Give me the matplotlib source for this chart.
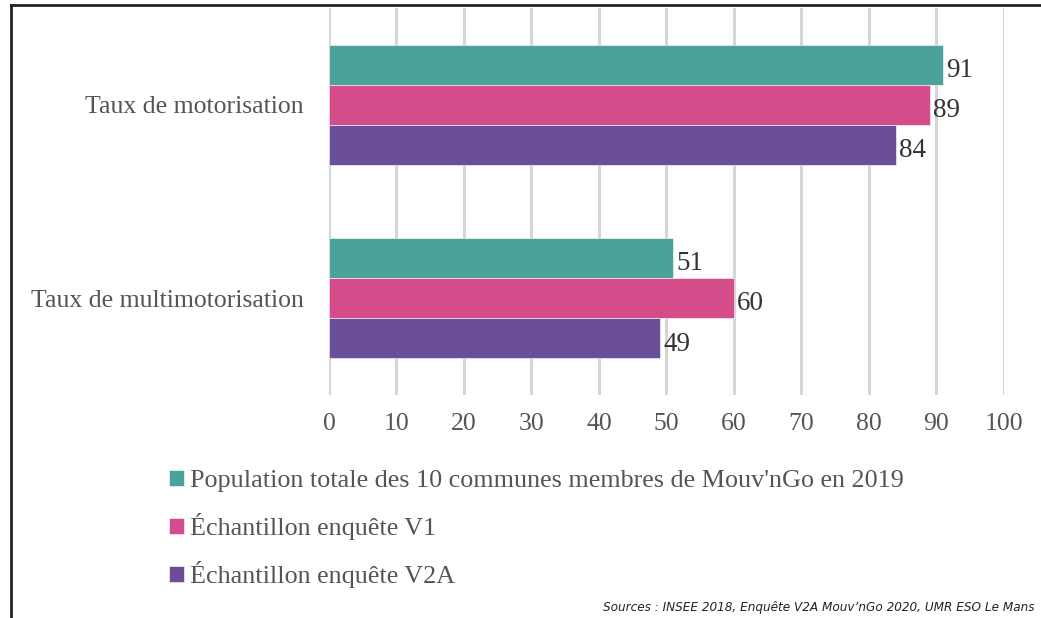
import numpy as np
import matplotlib.pyplot as plt
from matplotlib.lines import Line2D
from matplotlib.patches import Patch

categories = ["Taux de motorisation", "Taux de multimotorisation"]
series = ["Population totale des 10 communes membres de Mouv'nGo en 2019",
          "Échantillon enquête V1",
          "Échantillon enquête V2A"]
population = [91, 51]
v1 = [89, 60]
v2a = [84, 49]
colors = ["#4BA29A", "#D44D8A", "#6A4E97"]
xticks = list(range(0, 101, 10))
source = "Sources : INSEE 2018, Enquête V2A Mouv’nGo 2020, UMR ESO Le Mans"

txt = "#555555"
plt.rcParams['font.family'] = ['Liberation Serif', 'DejaVu Serif']

fig = plt.figure(figsize=(10.41, 6.18), dpi=100)
ax = fig.add_axes([0.316, 0.361, 0.6484, 0.626])

y = np.arange(len(categories))
h = 0.207
for i, (vals, col) in enumerate(zip([population, v1, v2a], colors)):
    pos = y + (i - 1) * h
    ax.barh(pos, vals, height=h, color=col, edgecolor="white", linewidth=0.4,
            label=series[i], zorder=3)
    for p, v in zip(pos, vals):
        ax.text(v + 0.5, p + 0.03, str(v), va="center", ha="left",
                fontsize=19.5, color="#333333")

ax.set_xlim(0, 100)
ax.set_ylim(1.5, -0.5)
ax.set_xticks(xticks)
ax.set_yticks(y)
ax.set_yticklabels(categories)
ax.grid(axis="x", color="#D6D6D6", linewidth=2.2, zorder=0)
ax.tick_params(axis="both", length=0, labelsize=18.5, labelcolor=txt)
ax.tick_params(axis="x", pad=13)
ax.tick_params(axis="y", pad=18)
for s in ax.spines.values():
    s.set_visible(False)

handles = [Patch(facecolor=c, edgecolor="white", linewidth=0.4) for c in colors]
fig.legend(handles, series, loc="upper left", bbox_to_anchor=(0.150, 0.26),
           frameon=False, fontsize=18.8, handlelength=0.55, handleheight=0.55,
           handletextpad=0.25, labelspacing=0.8, borderpad=0,
           labelcolor=txt)

fig.text(603 / 1041, 0.006, source, ha="left", va="bottom", fontsize=9.6,
         style="italic", color="#222222", family="DejaVu Sans",
         fontstretch="condensed")

# frame around the figure
fig.add_artist(Line2D([0.0105, 0.0105], [0, 0.992], color="#222222", lw=2))
fig.add_artist(Line2D([0.0105, 1], [0.992, 0.992], color="#222222", lw=2))

fig.savefig("out.png", dpi=100)
